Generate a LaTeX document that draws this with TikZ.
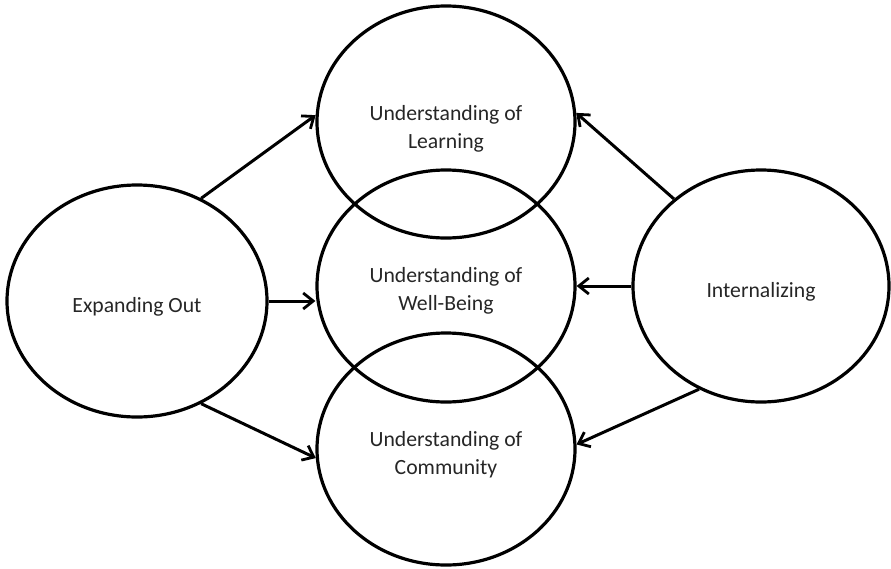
\documentclass[tikz,border=0pt]{standalone}
\usepackage{fontspec}
\setmainfont{Carlito}
\usetikzlibrary{shapes.geometric,arrows.meta}
\begin{document}
\begin{tikzpicture}[x=1pt,y=-1pt,
  bubble/.style={ellipse,draw=black,line width=3.2pt,minimum width=258pt,minimum height=232pt,inner sep=0pt},
  caption/.style={align=center,text=black!85,inner sep=0pt,font=\fontsize{21.7}{28}\selectfont},
  link/.style={line width=3pt,-{Straight Barb[length=10pt,width=16pt,line width=2.8pt]}}]
\useasboundingbox (0,0) rectangle (891,568);
\node[bubble] (T) at (446,122) {};
\node[bubble] (M) at (446,286) {};
\node[bubble] (B) at (446,449) {};
\node[bubble,minimum width=260pt] (L) at (137,301) {};
\node[bubble,minimum width=256pt] (R) at (761,286) {};
\node[caption] (Tt) at ([yshift=-6.5pt]T.center) {Understanding of\\Learning};
\node[caption] (Mt) at ([yshift=-5pt]M.center) {Understanding of\\Well-Being};
\node[caption] (Bt) at ([yshift=-5.5pt]B.center) {Understanding of\\Community};
\node[caption] (Lt) at ([yshift=-6pt]L.center) {Expanding Out};
\node[caption] (Rt) at ([yshift=-6pt]R.center) {Internalizing};
\draw[link] (L.58) -- (T.177);
\draw[link] (L.east) -- (M.west |- L.east);
\draw[link] (L.-58) -- (B.184);
\draw[link] (R.135) -- (T.4);
\draw[link] (R.west) -- (M.east);
\draw[link] (R.239) -- (B.2);
\end{tikzpicture}
\end{document}
